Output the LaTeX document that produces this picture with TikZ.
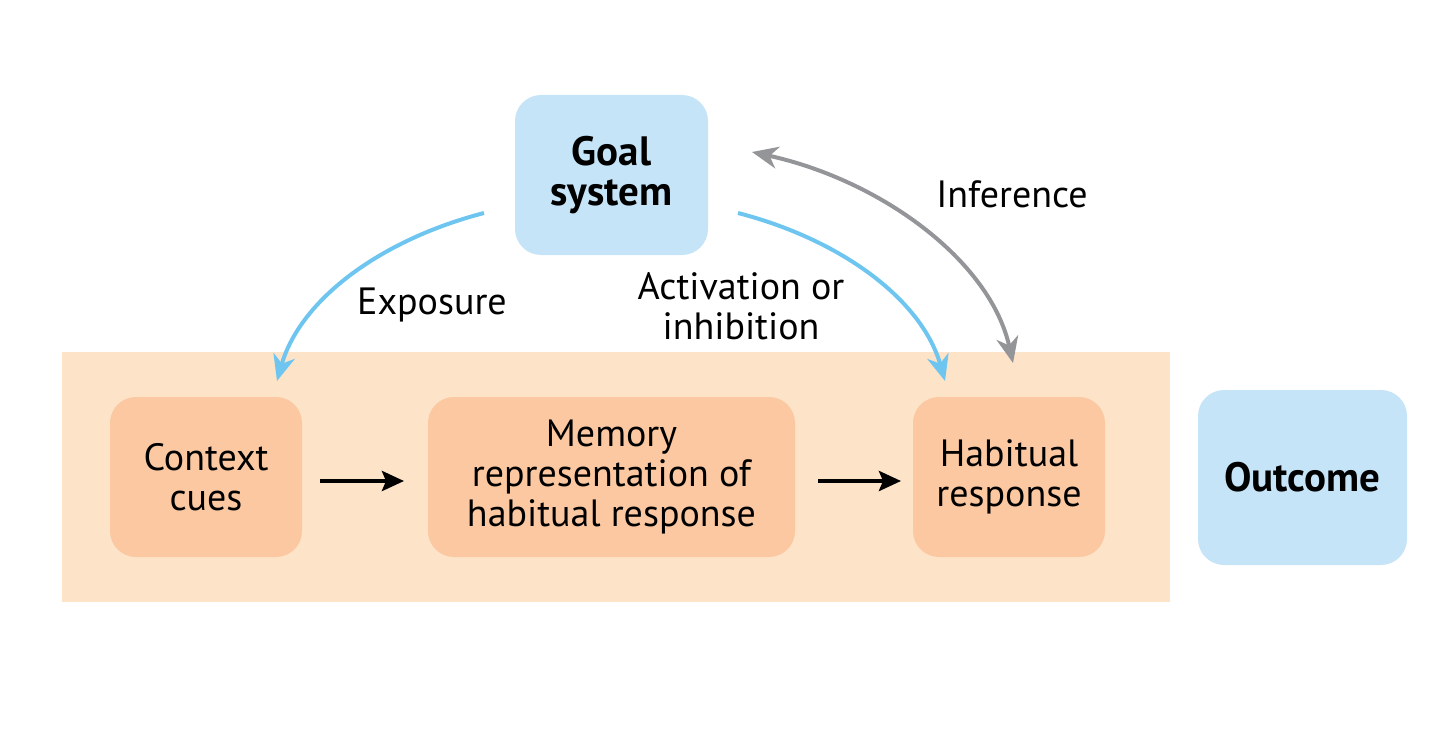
\documentclass[tikz,border=0pt]{standalone}
\usepackage{fontspec}
\setmainfont{PT Sans}
\usetikzlibrary{arrows.meta}
\definecolor{bluebox}{HTML}{C5E4F7}
\definecolor{peachbg}{HTML}{FDE3C8}
\definecolor{peachbox}{HTML}{FBC8A1}
\definecolor{bluearrow}{HTML}{6EC6F0}
\definecolor{grayarrow}{HTML}{939598}
\tikzset{
  box/.style={rounded corners=26pt, inner sep=0pt, align=center, font=\fontsize{38}{40}\selectfont},
  goalbox/.style={box, fill=bluebox, font=\fontsize{41}{40}\selectfont\bfseries},
  habbox/.style={box, fill=peachbox},
  lbl/.style={align=center, font=\fontsize{38}{40}\selectfont},
  curvearrow/.style={line width=4pt, -{Stealth[length=26pt,width=22pt,inset=8pt]}},
  blackarrow/.style={line width=4pt, -{Stealth[length=22pt,width=20pt,inset=4pt]}},
}
\begin{document}
\begin{tikzpicture}[x=1pt,y=-1pt]
\useasboundingbox (0,0) rectangle (1440,749);
\fill[peachbg] (62,352) rectangle (1170,602);
\node[goalbox, minimum width=193pt, minimum height=160pt] (goal) at (611.5,175) {Goal\\system};
\node[habbox, minimum width=192pt, minimum height=160pt] (ctx) at (206,477) {Context\\cues};
\node[habbox, minimum width=367pt, minimum height=160pt] (mem) at (611.5,477) {Memory\\representation of\\habitual response};
\node[habbox, minimum width=192pt, minimum height=160pt] (hab) at (1009,477) {Habitual\\response};
\node[goalbox, minimum width=209pt, minimum height=175pt] (out) at (1302.5,477.5) {Outcome};
\coordinate (a1s) at (320,481);
\coordinate (a1e) at (404,481);
\coordinate (a2s) at (818,481);
\coordinate (a2e) at (901,481);
\draw[blackarrow] (a1s) -- (a1e);
\draw[blackarrow] (a2s) -- (a2e);
\coordinate (exs) at (484,213);
\coordinate (exe) at (277,381);
\draw[curvearrow, bluearrow] (exs) .. controls (380,240) and (300,300) .. (exe);
\coordinate (acs) at (738,213);
\coordinate (ace) at (945,381);
\draw[curvearrow, bluearrow] (acs) .. controls (842,240) and (922,300) .. (ace);
\coordinate (ins) at (752,152);
\coordinate (ine) at (1013,363);
\draw[line width=4pt, grayarrow, {Stealth[length=26pt,width=22pt,inset=8pt]}-{Stealth[length=26pt,width=22pt,inset=8pt]}] (ins) .. controls (880,180) and (990,260) .. (ine);
\node[lbl] (exl) at (432,305) {Exposure};
\node[lbl] (acl) at (741,306) {Activation or\\inhibition};
\node[lbl] (inl) at (1012,194) {Inference};
\end{tikzpicture}
\end{document}
